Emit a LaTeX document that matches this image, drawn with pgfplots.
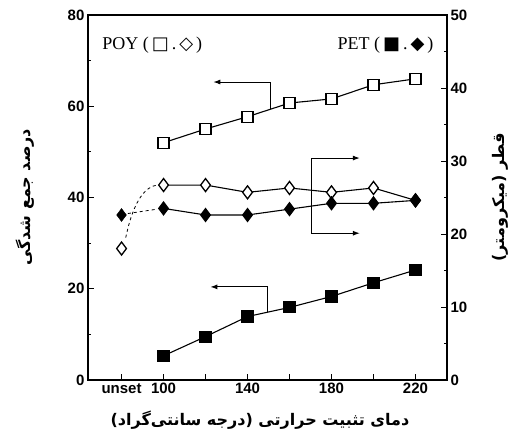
\documentclass[border=0pt]{standalone}
\usepackage{fontspec}
\setmainfont{Liberation Sans}
\newfontfamily\serif{Liberation Serif}
\newfontfamily\arabicfont[Script=Arabic]{DejaVu Sans}
\newfontfamily\sym{DejaVu Sans}
\usepackage{pgfplots}
\pgfplotsset{compat=1.18}
\usetikzlibrary{arrows.meta}
\TeXXeTstate=1
\begin{document}
\begin{tikzpicture}
\pgfplotsset{
  common/.style={
    scale only axis, width=359pt, height=365pt,
    xmin=64, xmax=235,
    tick align=inside,
    major tick length=6pt, minor tick length=3pt,
    axis line style={line width=1.5pt},
    every tick/.style={black, line width=0.9pt},
    tick label style={font=\fontsize{15}{15}\selectfont\bfseries},
    /pgf/number format/assume math mode=true,
  }
}
\begin{axis}[common,
  ymin=0, ymax=80,
  ytick={0,20,40,60,80}, minor y tick num=1,
  xtick={80,100,120,140,160,180,200,220},
  xticklabels={unset,100,,140,,180,,220},
  ytick pos=left, xtick pos=bottom,
  clip=false,
]
% POY shrinkage (open squares)
\addplot[black, line width=1.1pt, mark=square*, mark size=5.5pt, mark options={fill=white, line width=1.3pt, solid}]
  coordinates {(100,52) (120,55) (140,57.7) (160,60.7) (180,61.6) (200,64.7) (220,66)};
% PET shrinkage (filled squares)
\addplot[black, line width=1.1pt, mark=square*, mark size=5.5pt, mark options={fill=black, solid}]
  coordinates {(100,5.3) (120,9.5) (140,13.9) (160,15.9) (180,18.3) (200,21.3) (220,24.1)};
% arrows to left axis
\draw[line width=1pt, -{Latex[length=7pt,width=5pt]}] (axis cs:151,59.3) -- (axis cs:151,65.3) -- (axis cs:123.7,65.3);
\draw[line width=1pt, -{Latex[length=7pt,width=5pt]}] (axis cs:149.4,14.8) -- (axis cs:149.4,20.4) -- (axis cs:122.3,20.4);
% legend-like texts
\node[anchor=west, font=\fontsize{18}{18}\selectfont] at (rel axis cs:0.03,0.918)
  {{\serif POY (\,}{\sym □}{\serif\,.\,}{\sym ◇}{\serif\,)}};
\node[anchor=east, font=\fontsize{18}{18}\selectfont] at (rel axis cs:0.972,0.918)
  {{\serif PET (\,}{\sym ■}{\serif\,.\,}{\sym ◆}{\serif\,)}};
% axis labels
\node[rotate=90, font=\fontsize{16}{16}\selectfont\bfseries] at (rel axis cs:-0.175,0.5)
  {\arabicfont\beginR درصد جمع شدگی\endR};
\node[font=\fontsize{16}{16}\selectfont\bfseries] at (rel axis cs:0.479,-0.11)
  {\arabicfont\beginR دمای تثبیت حرارتی (درجه سانتی‌گراد)\endR};
\node[rotate=90, font=\fontsize{16}{16}\selectfont\bfseries] at (rel axis cs:1.148,0.5)
  {\arabicfont\beginR قطر (میکرومتر)\endR};
\coordinate (bbSW) at (rel axis cs:-0.245,-0.164);
\coordinate (bbNE) at (rel axis cs:1.209,1.041);
\end{axis}
\begin{axis}[common,
  ymin=0, ymax=50,
  axis x line=none, axis y line*=right,
  ytick={0,10,20,30,40,50}, minor y tick num=1,
  clip=false,
]
% POY diameter (open diamonds)
\addplot[black, line width=1.1pt, mark=diamond*, mark size=6.5pt, mark options={fill=white, line width=1.3pt, solid}]
  coordinates {(100,26.7) (120,26.7) (140,25.7) (160,26.3) (180,25.7) (200,26.3) (220,24.6)};
\addplot[only marks, black, mark=diamond*, mark size=6.5pt, mark options={fill=white, line width=1.3pt}]
  coordinates {(80,18.0)};
% PET diameter (filled diamonds)
\addplot[black, line width=1.1pt, mark=diamond*, mark size=6.5pt, mark options={fill=black, solid}]
  coordinates {(100,23.5) (120,22.6) (140,22.6) (160,23.4) (180,24.2) (200,24.2) (220,24.6)};
\addplot[only marks, black, mark=diamond*, mark size=6.5pt, mark options={fill=black}]
  coordinates {(80,22.6)};
% dashed links from unset
\draw[dashed, line width=0.8pt] (axis cs:82,19.5) .. controls (axis cs:86,25) and (axis cs:92,26.5) .. (axis cs:97,26.7);
\draw[dashed, line width=0.8pt] (axis cs:83,22.8) -- (axis cs:97,23.4);
% bracket arrows to right axis
\draw[line width=1pt, {Latex[length=7pt,width=5pt]}-{Latex[length=7pt,width=5pt]}] (axis cs:193.5,30.4) -- (axis cs:170.5,30.4) -- (axis cs:170.5,20.1) -- (axis cs:193.5,20.1);
\end{axis}
\pgfresetboundingbox
\path[use as bounding box] (bbSW) rectangle (bbNE);
\end{tikzpicture}
\end{document}
